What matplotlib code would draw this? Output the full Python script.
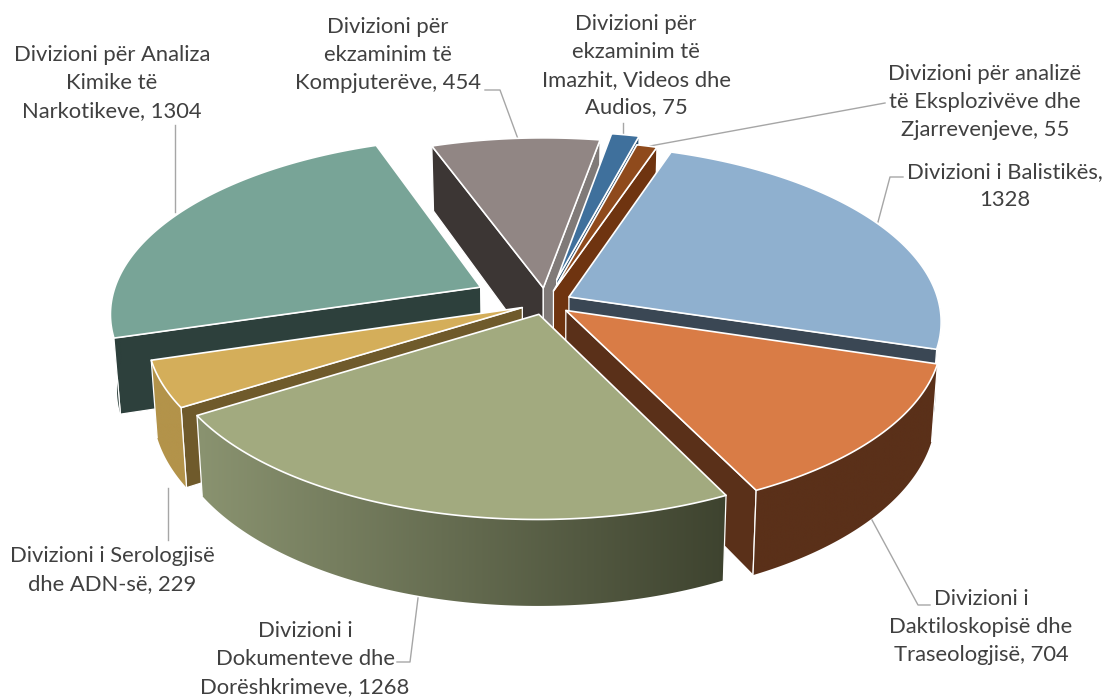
import numpy as np
import matplotlib
matplotlib.use("Agg")
import matplotlib.pyplot as plt

# data
names = ["Divizioni i Balistikës", "Divizioni i\nDaktiloskopisë dhe\nTraseologjisë",
         "Divizioni i\nDokumenteve dhe\nDorëshkrimeve", "Divizioni i Serologjisë\ndhe ADN-së",
         "Divizioni për Analiza\nKimike të\nNarkotikeve", "Divizioni për\nekzaminim të\nKompjuterëve",
         "Divizioni për\nekzaminim të\nImazhit, Videos dhe\nAudios", "Divizioni për analizë\ntë Eksplozivëve dhe\nZjarrevenjeve"]
values = [1328, 704, 1268, 229, 1304, 454, 75, 55]
seps = [",\n", ", ", ", ", ", ", ", ", ", ", ", ", ", "]
explode = [0.07, 0.07, 0.07, 0.07, 0.2, 0.085, 0.135, 0.07]

top_colors = ["#8fb0cf", "#d97c46", "#a2aa7f", "#d4ae5a", "#78a497", "#918684", "#3f709c", "#8f4a1c"]
wall_colors = ["#3a4754", "#5a3019", "#8a9370", "#b3934a", "#2d403c", "#3c3634", "#2c4f6e", "#6f3410"]
wall_colors_end = ["#3a4754", "#5a3019", "#3e432f", "#b3934a", "#2d403c", "#3c3634", "#2c4f6e", "#6f3410"]
start_wall = ["#3a4754", "#5a3019", "#3e432f", "#6f5a2b", "#2d403c", "#3c3634", "#2c4f6e", "#6f3410"]
end_wall = ["#3a4754", "#5a3019", "#3e432f", "#6f5a2b", "#2d403c", "#807a78", "#2c4f6e", "#6f3410"]

# layout, in pixels of the picture
label_x = [1005, 981, 305, 112, 112, 388, 636, 985]
label_y = [186, 627, 659, 570, 83, 55, 66, 102]
leaders = [[(903, 177), (890, 177), (878, 222)],
           [(930, 605), (918, 605), (872, 520)],
           [(397, 662), (410, 662), (418, 598)],
           [(168, 540), (168, 488)],
           [(175, 125), (175, 212)],
           [(485, 90), (500, 90), (518, 139)],
           [(623, 123), (623, 143)],
           [(885, 103), (650, 146)]]

cx, cy = 546, 302.5
rx, ry = 370, 174
persp_x, persp_y = 0.135, 0.135
depth = 74
start_angle = 18.7


def project(u, v, bottom=False):
    x = cx + rx * u / (1 + persp_x * v)
    y = cy - ry * v / (1 + persp_y * v)
    if bottom:
        x = cx + (x - cx) * 0.985
        y = y + depth / (1 + persp_y * v)
    return np.column_stack([x, y])


def wall(ax, a, b, fc, z):
    poly = np.vstack([a, b[::-1]])
    ax.fill(poly[:, 0], poly[:, 1], fc=fc, ec="white", lw=0.9, zorder=z, joinstyle="round")


fig = plt.figure(figsize=(11.07, 6.98), dpi=100, facecolor="white")
ax = fig.add_axes([0, 0, 1, 1])
ax.axis("off")

total = sum(values)
angles = start_angle + np.cumsum([0] + values) / total * 360
mids = (angles[:-1] + angles[1:]) / 2
order = np.argsort(-np.cos(np.radians(mids)))

z = 2
for i in order:
    a0, a1 = angles[i], angles[i + 1]
    du = explode[i] * np.sin(np.radians(mids[i]))
    dv = explode[i] * np.cos(np.radians(mids[i]))
    th = np.radians(np.linspace(a0, a1, 120))
    u = np.sin(th) + du
    v = np.cos(th) + dv

    # radial walls that face the viewer
    if np.sin(np.radians(a0)) < 0:
        ru = np.array([du, u[0]])
        rv = np.array([dv, v[0]])
        wall(ax, project(ru, rv), project(ru, rv, True), start_wall[i], z)
        z += 1
    if np.sin(np.radians(a1)) > 0:
        ru = np.array([du, u[-1]])
        rv = np.array([dv, v[-1]])
        wall(ax, project(ru, rv), project(ru, rv, True), end_wall[i], z)
        z += 1

    # outer wall, front half only, painted as a left to right gradient
    keep = np.cos(th) < 0.02
    if keep.sum() > 1:
        top = project(u[keep], v[keep])
        bot = project(u[keep], v[keep], True)
        poly = np.vstack([top, bot[::-1]])
        c0 = np.array(matplotlib.colors.to_rgb(wall_colors[i]))
        c1 = np.array(matplotlib.colors.to_rgb(wall_colors_end[i]))
        grad = c0 + (c1 - c0) * np.linspace(0, 1, 256)[:, None]
        im = ax.imshow(grad[None, :, :], aspect="auto", zorder=z, interpolation="bilinear",
                       extent=[poly[:, 0].min(), poly[:, 0].max(), poly[:, 1].max(), poly[:, 1].min()])
        patch = plt.Polygon(poly, closed=True, transform=ax.transData)
        im.set_clip_path(patch)
        # white lines only on the real corners of the wall
        if np.cos(th[0]) < 0.02:
            ax.plot([top[0, 0], bot[0, 0]], [top[0, 1], bot[0, 1]], color="white", lw=0.9, zorder=z)
        if np.cos(th[-1]) < 0.02:
            ax.plot([top[-1, 0], bot[-1, 0]], [top[-1, 1], bot[-1, 1]], color="white", lw=0.9, zorder=z)
        z += 1

    # top of the slice
    pts = np.vstack([project(np.array([du]), np.array([dv])), project(u, v)])
    ax.fill(pts[:, 0], pts[:, 1], fc=top_colors[i], ec="white", lw=1.2, zorder=z, joinstyle="round")
    z += 1

for i in range(len(values)):
    p = np.array(leaders[i])
    ax.plot(p[:, 0], p[:, 1], color="#a6a6a6", lw=1.0, zorder=1)
    ax.text(label_x[i], label_y[i], names[i] + seps[i] + str(values[i]), ha="center", va="center",
            multialignment="center", fontsize=15.8, family="Lato", color="#404040", linespacing=1.48, zorder=50)

ax.set_xlim(0, 1107)
ax.set_ylim(698, 0)
fig.savefig("out.png", dpi=100, facecolor="white")
